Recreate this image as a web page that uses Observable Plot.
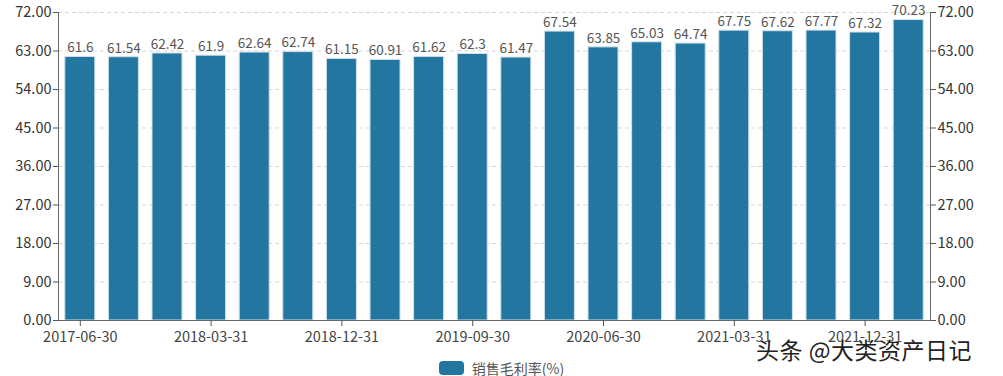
<!DOCTYPE html>
<html><head><meta charset="utf-8">
<script src="https://cdn.jsdelivr.net/npm/d3@7"></script>
<script src="https://cdn.jsdelivr.net/npm/@observablehq/plot@0.6"></script>
<style>
body{margin:0;background:#fff;font-family:"Noto Sans CJK SC","Open Sans",sans-serif;}
#wrap{position:relative;width:1003px;height:376px;}
#legend{position:absolute;left:0;top:358px;width:1003px;height:20px;display:flex;justify-content:center;align-items:center;font-size:14px;color:#555;}
#legend .sw{display:inline-block;width:25px;height:14px;border-radius:4px;background:#2276a0;margin-right:8px;margin-left:0px;}
#wm{position:absolute;left:756px;top:332px;font-size:23px;color:#222;letter-spacing:0.5px;text-shadow:0 0 2px #fff;}
</style></head>
<body><div id="wrap"><div id="chart"></div>
<div id="legend"><span class="sw"></span>销售毛利率(%)</div>
<div id="wm">头条 @大类资产日记</div></div>
<script>
const dates = ["2017-06-30","2017-09-30","2017-12-31","2018-03-31","2018-06-30","2018-09-30","2018-12-31","2019-03-31","2019-06-30","2019-09-30","2019-12-31","2020-03-31","2020-06-30","2020-09-30","2020-12-31","2021-03-31","2021-06-30","2021-09-30","2021-12-31","2022-03-31"];
const values = [61.6,61.54,62.42,61.9,62.64,62.74,61.15,60.91,61.62,62.3,61.47,67.54,63.85,65.03,64.74,67.75,67.62,67.77,67.32,70.23];
const yTicks = [0,9,18,27,36,45,54,63,72];
const data = dates.map((d,i)=>({date:d,value:values[i]}));
const fmt = d => d.toFixed(2);
const chart = Plot.plot({
  width:1003, height:356,
  marginLeft:58, marginRight:73, marginTop:12, marginBottom:36,
  style:{fontFamily:'"Noto Sans CJK SC","Open Sans",sans-serif',fontSize:"14.5px",color:"#444"},
  x:{domain:dates, padding:0, round:false, label:null},
  y:{domain:[0,72], label:null},
  marks:[
    Plot.gridY(yTicks,{stroke:"#ccc",strokeOpacity:0.8,strokeDasharray:"4,3"}),
    Plot.barY(data,{x:"date",y:"value",fill:"#2276a0",stroke:"#cfe0ea",strokeWidth:1,insetLeft:6.8,insetRight:6.8}),
    Plot.text(data,{x:"date",y:"value",text:d=>String(d.value),dy:-9,fill:"#555",fontSize:13.5}),
    Plot.axisY(yTicks,{anchor:"left",tickFormat:fmt,tickSize:5,tickPadding:2,stroke:"#555",fill:"#333",label:null}),
    Plot.axisY(yTicks,{anchor:"right",tickFormat:fmt,tickSize:5,tickPadding:2,stroke:"#555",fill:"#333",label:null}),
    Plot.frame({anchor:"left",stroke:"#666"}),
    Plot.frame({anchor:"right",stroke:"#666"}),
    Plot.ruleY([0],{stroke:"#666"}),
    Plot.axisX(dates.filter((d,i)=>i%3===0),{tickSize:6,tickPadding:5,stroke:"#555",fill:"#444",label:null})
  ]
});
document.getElementById("chart").appendChild(chart);
</script></body></html>
